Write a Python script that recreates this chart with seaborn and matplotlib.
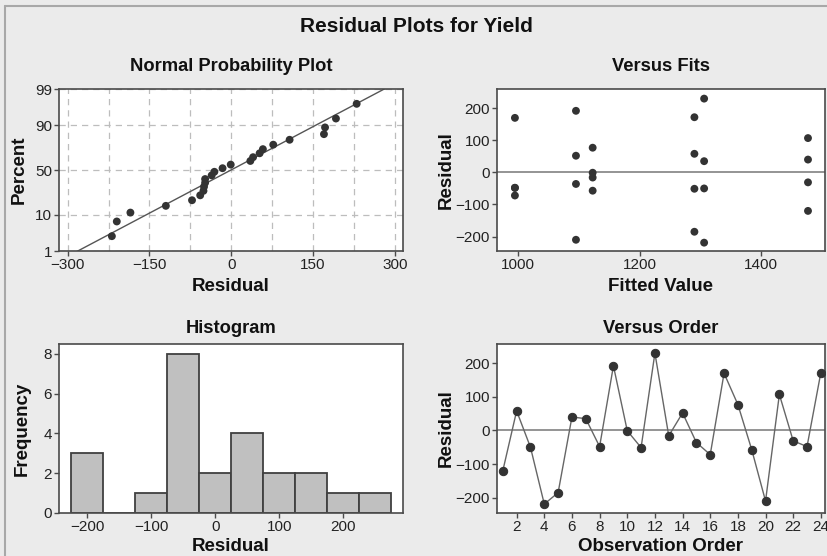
import numpy as np
import pandas as pd
import matplotlib
matplotlib.use("Agg")
import matplotlib.pyplot as plt
from matplotlib.ticker import MultipleLocator, FixedLocator
from matplotlib.lines import Line2D
import seaborn as sns
from statistics import NormalDist

# ---- data ----
order = list(range(1, 25))
residuals = [-120, 58, -50, -219, -185, 40, 35, -48, 192, -1, -51, 230,
             -16, 52, -36, -72, 170, 77, -57, -210, 107, -31, -48, 172]
fitted = [1477, 1290, 1306, 1306, 1290, 1477, 1306, 994.5, 1095, 1122.5, 1290, 1306,
          1122.5, 1095, 1095, 994.5, 994.5, 1122.5, 1122.5, 1095, 1477, 1477, 994.5, 1290]
prob_ticks = [1, 10, 50, 90, 99]

df = pd.DataFrame({"order": order, "resid": residuals, "fit": fitted})

sns.set_style("ticks")
plt.rcParams['font.family'] = ['Liberation Sans', 'DejaVu Sans']

BG = "#ebebeb"
DARK = "#333333"
SPINE = "#4a4a4a"

fig = plt.figure(figsize=(8.28, 5.56), dpi=100, facecolor=BG)

# frame lines (left and top)
fig.add_artist(Line2D([5/828, 5/828], [0, 1 - 6/556], transform=fig.transFigure,
                      color="#a8a8a8", lw=1.5))
fig.add_artist(Line2D([5/828, 1], [1 - 6/556, 1 - 6/556], transform=fig.transFigure,
                      color="#a8a8a8", lw=1.5))

fig.suptitle("Residual Plots for Yield", x=0.503, y=1 - 27/556, va="center",
             fontsize=15, fontweight="bold", color="#111111")

W, H = 828, 556
def axpos(l, t, r, b):
    return [l / W, 1 - b / H, (r - l) / W, (b - t) / H]

ax1 = fig.add_axes(axpos(59, 89, 403, 251))
ax2 = fig.add_axes(axpos(497, 89, 825, 251))
ax3 = fig.add_axes(axpos(59, 344, 403, 513))
ax4 = fig.add_axes(axpos(497, 344, 825, 513))

def style(ax):
    ax.set_facecolor("white")
    for s in ax.spines.values():
        s.set_color(SPINE)
        s.set_linewidth(1.2)
        s.set_visible(True)
    ax.tick_params(axis="both", which="major", labelsize=11, length=3.5, width=1,
                   color=SPINE, labelcolor="#222222", pad=1.5)
    ax.tick_params(axis="both", which="minor", length=0)

title_kw = dict(fontsize=13.2, fontweight="bold", color="#111111")
label_kw = dict(fontsize=13.5, fontweight="bold", color="#111111")
TOP_PAD, BOT_PAD = 13, 8
TOP_XLP, BOT_XLP = 4, 3

# ---- Normal probability plot ----
nd = NormalDist()
_ppf = np.vectorize(lambda p: nd.inv_cdf(min(max(p / 100.0, 1e-9), 1 - 1e-9)), otypes=[float])
_cdf = np.vectorize(lambda z: nd.cdf(z) * 100.0, otypes=[float])
def fwd(p):
    return _ppf(np.asarray(p, dtype=float))
def inv(z):
    return _cdf(np.asarray(z, dtype=float))

r_sorted = np.sort(np.array(residuals, dtype=float))
n = len(r_sorted)
pct = (np.arange(1, n + 1) - 0.3) / (n + 0.4) * 100
mu, sd = r_sorted.mean(), r_sorted.std(ddof=1)
xline = np.array([-400.0, 400.0])
yline = np.array([nd.cdf((x - mu) / sd) * 100 for x in xline])

ax1.set_yscale("function", functions=(fwd, inv))
ax1.plot(xline, yline, color="#555555", lw=1.0, zorder=2)
sns.scatterplot(x=r_sorted, y=pct, ax=ax1, color=DARK, s=32, edgecolor="none", zorder=3)
ax1.set_xlim(-316, 315)
ax1.set_ylim(1, 99)
ax1.yaxis.set_major_locator(FixedLocator(prob_ticks))
ax1.set_yticklabels([str(t) for t in prob_ticks])
ax1.yaxis.set_minor_locator(FixedLocator([]))
ax1.xaxis.set_major_locator(MultipleLocator(150))
ax1.xaxis.set_minor_locator(MultipleLocator(75))
style(ax1)
ax1.grid(True, axis="x", which="both", color="#bdbdbd", ls=(0, (5, 4)), lw=0.9)
ax1.grid(True, axis="y", which="major", color="#bdbdbd", ls=(0, (5, 4)), lw=0.9)
ax1.set_axisbelow(True)
ax1.set_title("Normal Probability Plot", pad=TOP_PAD, **title_kw)
ax1.set_xlabel("Residual", labelpad=TOP_XLP, **label_kw)
ax1.set_ylabel("Percent", labelpad=5, **label_kw)

# ---- Versus fits ----
sns.scatterplot(data=df, x="fit", y="resid", ax=ax2, color=DARK, s=32, edgecolor="none", zorder=3)
ax2.axhline(0, color="#777777", lw=1.1, zorder=2)
ax2.set_xlim(965, 1505)
ax2.set_ylim(-245, 260)
ax2.xaxis.set_major_locator(MultipleLocator(200))
ax2.yaxis.set_major_locator(MultipleLocator(100))
style(ax2)
ax2.set_title("Versus Fits", pad=TOP_PAD, **title_kw)
ax2.set_xlabel("Fitted Value", labelpad=TOP_XLP, **label_kw)
ax2.set_ylabel("Residual", labelpad=1, **label_kw)

# ---- Histogram ----
sns.histplot(data=df, x="resid", bins=np.arange(-225, 276, 50), ax=ax3,
             color="#c0c0c0", edgecolor="#404040", linewidth=1.3, alpha=1.0)
ax3.set_xlim(-244, 293)
ax3.set_ylim(0, 8.5)
ax3.xaxis.set_major_locator(MultipleLocator(100))
ax3.yaxis.set_major_locator(MultipleLocator(2))
style(ax3)
ax3.set_title("Histogram", pad=BOT_PAD, **title_kw)
ax3.set_xlabel("Residual", labelpad=BOT_XLP, **label_kw)
ax3.set_ylabel("Frequency", labelpad=9, **label_kw)

# ---- Versus order ----
sns.lineplot(data=df, x="order", y="resid", ax=ax4, color="#666666", lw=1.0,
             marker="o", markersize=6, markerfacecolor=DARK, markeredgecolor=DARK, zorder=3)
ax4.axhline(0, color="#777777", lw=1.1, zorder=2)
ax4.set_xlim(0.58, 24.3)
ax4.set_ylim(-245.5, 257)
ax4.xaxis.set_major_locator(FixedLocator(list(range(2, 25, 2))))
ax4.yaxis.set_major_locator(MultipleLocator(100))
style(ax4)
ax4.set_title("Versus Order", pad=BOT_PAD, **title_kw)
ax4.set_xlabel("Observation Order", labelpad=BOT_XLP, **label_kw)
ax4.set_ylabel("Residual", labelpad=1, **label_kw)

fig.savefig("out.png", dpi=100, facecolor=BG)
